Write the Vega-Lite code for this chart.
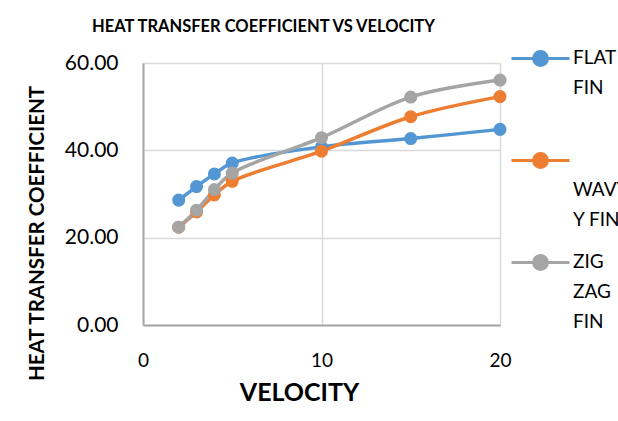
{
  "$schema": "https://vega.github.io/schema/vega-lite/v6.json",
  "autosize": {"type": "none"},
  "width": 357,
  "height": 262,
  "padding": {"left": 143, "top": 63, "right": 118, "bottom": 96},
  "background": "white",
  "title": {
    "text": "HEAT TRANSFER COEFFICIENT VS VELOCITY",
    "font": "Lato",
    "fontSize": 16.5,
    "fontWeight": "bold",
    "color": "#000000",
    "anchor": "middle",
    "dx": -58,
    "offset": -7
  },
  "data": {
    "values": [
      {"velocity": 2, "series": "FLAT FIN", "h": 28.6},
      {"velocity": 3, "series": "FLAT FIN", "h": 31.7},
      {"velocity": 4, "series": "FLAT FIN", "h": 34.6},
      {"velocity": 5, "series": "FLAT FIN", "h": 37.1},
      {"velocity": 10, "series": "FLAT FIN", "h": 40.8},
      {"velocity": 15, "series": "FLAT FIN", "h": 42.7},
      {"velocity": 20, "series": "FLAT FIN", "h": 44.8},
      {"velocity": 2, "series": "WAVY FIN", "h": 22.4},
      {"velocity": 3, "series": "WAVY FIN", "h": 25.9},
      {"velocity": 4, "series": "WAVY FIN", "h": 29.8},
      {"velocity": 5, "series": "WAVY FIN", "h": 32.9},
      {"velocity": 10, "series": "WAVY FIN", "h": 39.8},
      {"velocity": 15, "series": "WAVY FIN", "h": 47.7},
      {"velocity": 20, "series": "WAVY FIN", "h": 52.3},
      {"velocity": 2, "series": "ZIG ZAG FIN", "h": 22.4},
      {"velocity": 3, "series": "ZIG ZAG FIN", "h": 26.3},
      {"velocity": 4, "series": "ZIG ZAG FIN", "h": 31.0},
      {"velocity": 5, "series": "ZIG ZAG FIN", "h": 34.8},
      {"velocity": 10, "series": "ZIG ZAG FIN", "h": 42.9},
      {"velocity": 15, "series": "ZIG ZAG FIN", "h": 52.2},
      {"velocity": 20, "series": "ZIG ZAG FIN", "h": 56.1}
    ]
  },
  "mark": {
    "type": "line",
    "interpolate": "catmull-rom",
    "strokeWidth": 3.5,
    "point": {"filled": true, "size": 170}
  },
  "encoding": {
    "x": {
      "field": "velocity",
      "type": "quantitative",
      "scale": {"domain": [0, 20], "nice": false},
      "axis": {
        "title": "VELOCITY",
        "values": [0, 10, 20],
        "format": "d",
        "titleFont": "Lato",
        "titleFontSize": 25,
        "titleFontWeight": "bold",
        "titleColor": "#000000",
        "titleX": 156,
        "titleY": 67,
        "titleBaseline": "middle",
        "titleAlign": "center",
        "labelFont": "Lato",
        "labelFontSize": 19,
        "labelColor": "#000000",
        "labelPadding": 26,
        "labelFlush": false,
        "tickSize": 0,
        "domainColor": "#a6a6a6",
        "domainWidth": 2,
        "gridColor": "#d9d9d9",
        "gridWidth": 1.5
      }
    },
    "y": {
      "field": "h",
      "type": "quantitative",
      "scale": {"domain": [0, 60], "nice": false},
      "axis": {
        "title": "HEAT TRANSFER COEFFICIENT",
        "values": [0, 20, 40, 60],
        "format": ".2f",
        "titleFont": "Lato",
        "titleFontSize": 20.5,
        "titleFontWeight": "bold",
        "titleColor": "#000000",
        "titleX": -106,
        "titleY": 170,
        "titleAngle": 270,
        "titleBaseline": "middle",
        "titleAlign": "center",
        "labelFont": "Lato",
        "labelFontSize": 21,
        "labelColor": "#000000",
        "labelPadding": 25,
        "tickSize": 0,
        "domainColor": "#a6a6a6",
        "domainWidth": 2,
        "gridColor": "#d9d9d9",
        "gridWidth": 1.5
      }
    },
    "color": {
      "field": "series",
      "type": "nominal",
      "scale": {"domain": ["FLAT FIN", "WAVY FIN", "ZIG ZAG FIN"], "range": ["#5296d4", "#ed7d31", "#a5a5a5"]},
      "legend": {
        "title": null,
        "orient": "none",
        "legendX": 367,
        "legendY": -35,
        "symbolType": "M-1,0H1M0.24,0A0.24,0.24,0,1,1,-0.24,0A0.24,0.24,0,1,1,0.24,0Z",
        "symbolSize": 3364,
        "symbolStrokeWidth": 3,
        "labelFont": "Lato",
        "labelFontSize": 19,
        "labelColor": "#000000",
        "labelOffset": 2,
        "labelBaseline": "top",
        "rowPadding": 2,
        "labelLimit": 0,
        "labelExpr": "datum.label == 'FLAT FIN' ? ['FLAT', 'FIN', ''] : datum.label == 'WAVY FIN' ? ['', 'WAVY', 'Y FIN'] : ['ZIG', 'ZAG', 'FIN']",
        "encode": {
          "symbols": {"update": {"fill": {"scale": "color", "field": "value"}, "stroke": {"scale": "color", "field": "value"}}},
          "labels": {"update": {"lineHeight": {"value": 30}, "dy": {"value": -10}}}
        }
      }
    }
  }
}
